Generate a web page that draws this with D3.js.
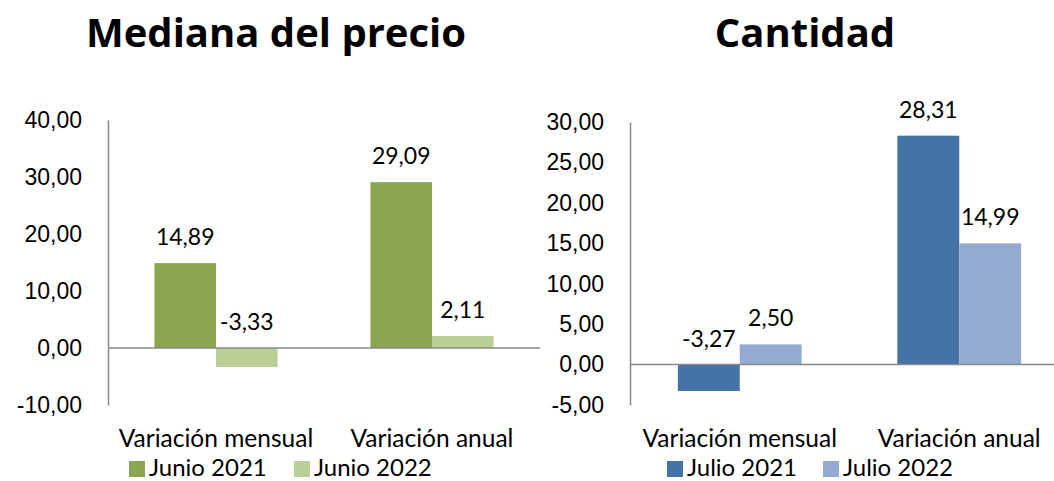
<!DOCTYPE html>
<html>
<head>
<meta charset="utf-8">
<script src="https://cdn.jsdelivr.net/npm/d3@7"></script>
<style>
  body { margin: 0; background: #fff; }
  svg { display: block; font-family: Lato, "Open Sans", sans-serif; }
</style>
</head>
<body>
<div id="chart"></div>
<script>
// --- DATA ---
const categories = ["Variación mensual", "Variación anual"];

const precioSeries = ["Junio 2021", "Junio 2022"];
const precioJunio2021 = [14.89, 29.09];
const precioJunio2022 = [-3.33, 2.11];
const precioTicks = [-10, 0, 10, 20, 30, 40];

const cantidadSeries = ["Julio 2021", "Julio 2022"];
const cantidadJulio2021 = [-3.27, 28.31];
const cantidadJulio2022 = [2.50, 14.99];
const cantidadTicks = [-5, 0, 5, 10, 15, 20, 25, 30];

// Spanish number format: comma decimal, plain hyphen minus
const esLocale = d3.formatLocale({ decimal: ",", thousands: ".", grouping: [3], currency: ["", ""], minus: "-" });
const fmt = esLocale.format(".2f");

const W = 1054, H = 481;
const svg = d3.select("#chart").append("svg").attr("width", W).attr("height", H);

function drawPanel(opts) {
    const g = svg.append("g");
    const rows = categories.map((c, i) => ({ cat: c, values: opts.series.map((s, j) => ({ key: s, value: opts.values[j][i] })) }));

    const x0 = d3.scaleBand().domain(categories).range(opts.xRange).paddingInner(opts.pad).paddingOuter(opts.pad / 2);
    const x1 = d3.scaleBand().domain(opts.series).range([0, x0.bandwidth()]);
    const y = d3.scaleLinear().domain(opts.yDomain).range(opts.yRange);
    const color = d3.scaleOrdinal().domain(opts.series).range(opts.colors);

    // title
    g.append("text")
        .attr("x", opts.titleX).attr("y", 47)
        .attr("text-anchor", "middle")
        .style("font-family", "'Open Sans', sans-serif")
        .style("font-size", "40px").style("font-weight", "bold")
        .text(opts.title);

    // bars
    const groups = g.selectAll(".grp").data(rows).enter().append("g")
        .attr("transform", d => `translate(${x0(d.cat)},0)`);

    groups.selectAll("rect").data(d => d.values).enter().append("rect")
        .attr("x", d => x1(d.key))
        .attr("width", x1.bandwidth())
        .attr("y", d => y(Math.max(0, d.value)))
        .attr("height", d => Math.abs(y(d.value) - y(0)))
        .attr("fill", d => color(d.key));

    groups.selectAll(".lbl").data(d => d.values).enter().append("text")
        .attr("x", d => x1(d.key) + x1.bandwidth() / 2)
        .attr("y", d => Math.min(y(d.value), y(0)) - 18)
        .attr("text-anchor", "middle")
        .style("font-size", "23px").style("fill", "#000")
        .text(d => fmt(d.value));

    // y axis
    const yAxis = g.append("g")
        .attr("transform", `translate(${opts.xRange[0]},0)`)
        .call(d3.axisLeft(y).tickValues(opts.ticks).tickFormat(fmt).tickSize(0).tickPadding(26));
    yAxis.select(".domain").attr("stroke", "#898989").attr("stroke-width", 1.5);
    yAxis.selectAll("text").style("font-size", "23px").style("fill", "#000").attr("font-family", null);

    // zero line
    g.append("line")
        .attr("x1", opts.xRange[0]).attr("x2", opts.zeroEnd)
        .attr("y1", y(0)).attr("y2", y(0))
        .attr("stroke", "#898989").attr("stroke-width", 1.5);

    // category labels
    g.selectAll(".cat").data(categories).enter().append("text")
        .attr("x", d => x0(d) + x0.bandwidth() / 2)
        .attr("y", 447)
        .attr("text-anchor", "middle")
        .style("font-size", "24.5px")
        .text(d => d);

    // legend
    const leg = g.selectAll(".leg").data(opts.series).enter().append("g")
        .attr("transform", (d, i) => `translate(${opts.legendX[i]},461)`);
    leg.append("rect").attr("width", 16).attr("height", 16).attr("fill", d => color(d));
    leg.append("text").attr("x", 20).attr("y", 15).style("font-size", "24px").text(d => d);
}

drawPanel({
    title: "Mediana del precio", titleX: 276,
    series: precioSeries, values: [precioJunio2021, precioJunio2022],
    colors: ["#8aa64e", "#b9cf96"],
    xRange: [108, 540], pad: 0.43, zeroEnd: 540,
    yDomain: [-10, 40], yRange: [405, 120], ticks: precioTicks,
    legendX: [129, 294]
});

drawPanel({
    title: "Cantidad", titleX: 805,
    series: cantidadSeries, values: [cantidadJulio2021, cantidadJulio2022],
    colors: ["#4572a7", "#95aad2"],
    xRange: [630, 1069], pad: 0.436, zeroEnd: 1054,
    yDomain: [-5, 30], yRange: [405, 122], ticks: cantidadTicks,
    legendX: [667, 823]
});
</script>
</body>
</html>
